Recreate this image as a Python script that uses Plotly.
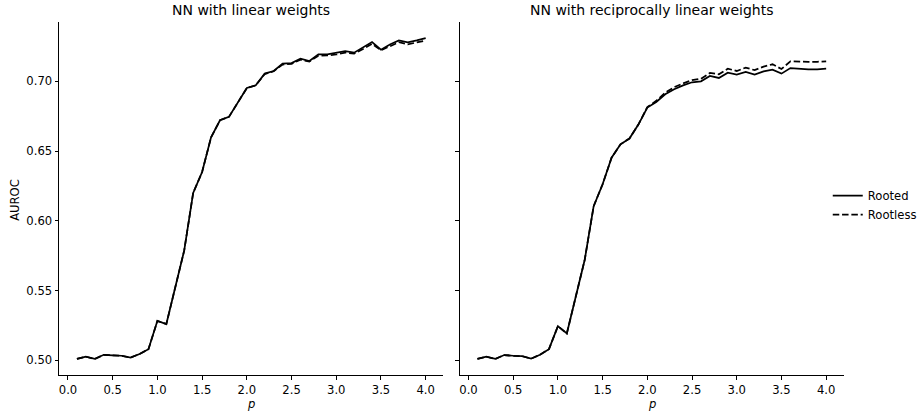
import plotly.graph_objects as go
from plotly.subplots import make_subplots

p = [round(0.1 * i, 1) for i in range(1, 41)]

linear_rooted = [0.501, 0.5026, 0.501, 0.504, 0.5036, 0.5033, 0.502, 0.5045, 0.508, 0.5283,
                 0.526, 0.5526, 0.5788, 0.620, 0.635, 0.6598, 0.6721, 0.6745, 0.6852, 0.6952,
                 0.6971, 0.7055, 0.7074, 0.7126, 0.7131, 0.7162, 0.7145, 0.7193, 0.7193, 0.7202,
                 0.7216, 0.7205, 0.724, 0.7281, 0.7226, 0.7264, 0.7293, 0.7279, 0.7293, 0.731]
linear_rootless = [0.501, 0.5026, 0.501, 0.504, 0.5036, 0.5033, 0.502, 0.5045, 0.508, 0.5283,
                   0.526, 0.5526, 0.5788, 0.620, 0.635, 0.6598, 0.6721, 0.6745, 0.6852, 0.6952,
                   0.6971, 0.7052, 0.7072, 0.7120, 0.7125, 0.7155, 0.7142, 0.7183, 0.7185, 0.7192,
                   0.7206, 0.7198, 0.7232, 0.7268, 0.7222, 0.7250, 0.7280, 0.7265, 0.7278, 0.7292]

recip_rooted = [0.501, 0.5026, 0.501, 0.5038, 0.5033, 0.503, 0.5012, 0.504, 0.508, 0.5245,
                0.5193, 0.5466, 0.5721, 0.6105, 0.6262, 0.6452, 0.6548, 0.659, 0.669, 0.6812,
                0.6852, 0.6907, 0.6943, 0.6971, 0.6993, 0.700, 0.7038, 0.7024, 0.7062, 0.7048,
                0.7067, 0.7048, 0.7071, 0.7083, 0.7055, 0.7095, 0.709, 0.7086, 0.7086, 0.709]
recip_rootless = [0.501, 0.5026, 0.501, 0.5038, 0.5033, 0.503, 0.5012, 0.504, 0.508, 0.5245,
                  0.5193, 0.5466, 0.5721, 0.6105, 0.6262, 0.6452, 0.6548, 0.659, 0.669, 0.6815,
                  0.6860, 0.6918, 0.6958, 0.6985, 0.7008, 0.7018, 0.7060, 0.7050, 0.7090, 0.7074,
                  0.7098, 0.7080, 0.7105, 0.7122, 0.7088, 0.7143, 0.7140, 0.7140, 0.7140, 0.7143]

titles = ["NN with linear weights", "NN with reciprocally linear weights"]
series_names = ["Rooted", "Rootless"]
x_ticks = [0.0, 0.5, 1.0, 1.5, 2.0, 2.5, 3.0, 3.5, 4.0]
y_ticks = [0.50, 0.55, 0.60, 0.65, 0.70]

W, H = 922, 415
FONT = "DejaVu Sans"
TICK_SIZE = 11.6
LW = 1.75
DASH = "6.5px,2.8px"

fig = make_subplots(rows=1, cols=2, shared_yaxes=True)

panels = [(linear_rooted, linear_rootless), (recip_rooted, recip_rootless)]
for col, (rooted, rootless) in enumerate(panels, start=1):
    fig.add_trace(go.Scatter(x=p, y=rooted, mode="lines", name=series_names[0],
                             line=dict(color="black", width=LW), showlegend=(col == 2),
                             legendrank=1), row=1, col=col)
    fig.add_trace(go.Scatter(x=p, y=rootless, mode="lines", name=series_names[1],
                             line=dict(color="black", width=LW, dash=DASH), showlegend=(col == 2),
                             legendrank=2), row=1, col=col)

left_dom = [60 / W, 447 / W]
right_dom = [464 / W, 851 / W]
y_dom = [1 - 375 / H, 1 - 22 / H]

axis_common = dict(showgrid=False, zeroline=False, showline=True, linecolor="black", linewidth=0.95,
                   ticks="outside", ticklen=4, tickwidth=0.95, tickcolor="black",
                   tickfont=dict(family=FONT, size=TICK_SIZE, color="black"), mirror=False)

fig.update_layout(
    xaxis=dict(domain=left_dom, range=[-0.095, 4.195], tickvals=x_ticks, tickformat=".1f", **axis_common),
    xaxis2=dict(domain=right_dom, range=[-0.095, 4.195], tickvals=x_ticks, tickformat=".1f", **axis_common),
    yaxis=dict(domain=y_dom, range=[0.4895, 0.7425], tickvals=y_ticks, tickformat=".2f", **axis_common),
    yaxis2=dict(domain=y_dom, range=[0.4895, 0.7425], tickvals=y_ticks, tickformat=".2f",
                showticklabels=False, matches="y", **axis_common),
)

annotations = [
    dict(text=titles[0], x=(left_dom[0] + left_dom[1]) / 2, y=1 - 10 / H, xref="paper", yref="paper",
         xanchor="center", yanchor="middle", showarrow=False, font=dict(family=FONT, size=14, color="black")),
    dict(text=titles[1], x=(right_dom[0] + right_dom[1]) / 2, y=1 - 10 / H, xref="paper", yref="paper",
         xanchor="center", yanchor="middle", showarrow=False, font=dict(family=FONT, size=14, color="black")),
    dict(text="<i>p</i>", x=(left_dom[0] + left_dom[1]) / 2, y=1 - 404 / H, xref="paper", yref="paper",
         xanchor="center", yanchor="middle", showarrow=False, font=dict(family=FONT, size=TICK_SIZE, color="black")),
    dict(text="<i>p</i>", x=(right_dom[0] + right_dom[1]) / 2, y=1 - 404 / H, xref="paper", yref="paper",
         xanchor="center", yanchor="middle", showarrow=False, font=dict(family=FONT, size=TICK_SIZE, color="black")),
    dict(text="AUROC", x=15 / W, y=1 - 200 / H, xref="paper", yref="paper", textangle=-90,
         xanchor="center", yanchor="middle", showarrow=False, font=dict(family=FONT, size=TICK_SIZE, color="black")),
]

fig.update_layout(
    width=W, height=H,
    margin=dict(l=0, r=0, t=0, b=0),
    paper_bgcolor="white", plot_bgcolor="white",
    font=dict(family=FONT, size=TICK_SIZE, color="black"),
    annotations=annotations,
    legend=dict(x=835 / W, y=1 - 181 / H, xanchor="left", yanchor="top",
                bgcolor="rgba(0,0,0,0)", borderwidth=0, tracegroupgap=0,
                font=dict(family=FONT, size=TICK_SIZE, color="black"), itemwidth=30),
)

fig.write_html("out.html", config={"displayModeBar": False},
               post_script="document.body.style.margin='0';document.body.style.overflow='hidden';")
